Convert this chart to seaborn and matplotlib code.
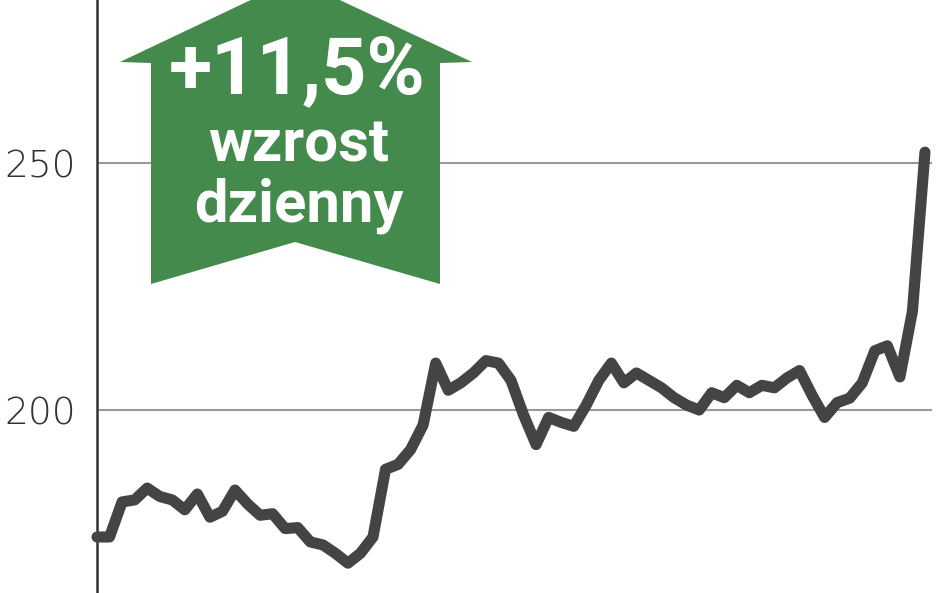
import matplotlib.pyplot as plt
import seaborn as sns
import pandas as pd
from matplotlib.patches import Polygon

# kurs - dzienne notowania
dni = list(range(67))
kurs = [174.3, 174.3, 181.4, 181.8, 184.2, 182.5, 181.8, 179.8, 183.0, 178.3,
        179.5, 183.8, 181.0, 178.7, 179.0, 176.0, 176.2, 173.3, 172.7, 171.0,
        169.0, 171.0, 174.3, 188.0, 189.0, 192.0, 197.0, 209.5, 204.0, 205.5,
        207.5, 210.0, 209.5, 206.0, 199.0, 193.0, 198.5, 197.5, 196.7, 201.0,
        206.0, 209.5, 205.5, 207.5, 206.0, 204.5, 202.5, 201.0, 200.0, 203.5,
        202.5, 205.0, 203.5, 205.0, 204.5, 206.5, 208.0, 203.0, 198.5, 201.5,
        202.4, 205.5, 212.0, 213.0, 206.7, 220.0, 252.2]
yticks = [200, 250]
ytick_labels = ['200', '250']
badge_lines = ['+11,5%', 'wzrost', 'dzienny']

df = pd.DataFrame({'dzien': dni, 'kurs': kurs})

sns.set_style('white')
plt.rcParams['font.family'] = ['Roboto', 'DejaVu Sans']

W, H = 948, 593
fig = plt.figure(figsize=(W / 100, H / 100), dpi=100)
ax = fig.add_axes([97 / W, 0, (932 - 97) / W, 1])

for v in yticks:
    ax.axhline(v, color='#9a9a9a', lw=1.5, zorder=1)

sns.lineplot(data=df, x='dzien', y='kurs', ax=ax, color='#444444', lw=8,
             solid_capstyle='round', solid_joinstyle='round', clip_on=False, zorder=3)

ax.set_xlim(0, 66.56)
ax.set_ylim(162.96, 283.0)
ax.set_yticks(yticks)
ax.set_yticklabels(ytick_labels, fontsize=27, color='#333333',
                   family='DejaVu Sans', fontweight='light')
ax.tick_params(axis='y', length=0, pad=15)
ax.set_xticks([])
ax.set_xlabel('')
ax.set_ylabel('')
for s in ['top', 'right', 'bottom']:
    ax.spines[s].set_visible(False)
ax.spines['left'].set_color('#333333')
ax.spines['left'].set_linewidth(1.8)

# zielona strzalka z opisem
def fp(x, y):
    return (x / W, 1 - y / H)

pts = [fp(295, -21), fp(472, 62), fp(440, 63), fp(440, 284), fp(295, 242),
       fp(151, 284), fp(151, 63), fp(120, 62)]
fig.patches.append(Polygon(pts, closed=True, transform=fig.transFigure,
                           facecolor='#438a4c', edgecolor='none', zorder=5))

fig.text(*fp(297, 93), badge_lines[0], color='white', fontsize=57, fontweight='bold',
         ha='center', va='baseline', zorder=6)
fig.text(*fp(299, 162), badge_lines[1], color='white', fontsize=43, fontweight='bold',
         ha='center', va='baseline', zorder=6)
fig.text(*fp(299, 221), badge_lines[2], color='white', fontsize=43, fontweight='bold',
         ha='center', va='baseline', zorder=6)

fig.savefig('out.png', dpi=100)
